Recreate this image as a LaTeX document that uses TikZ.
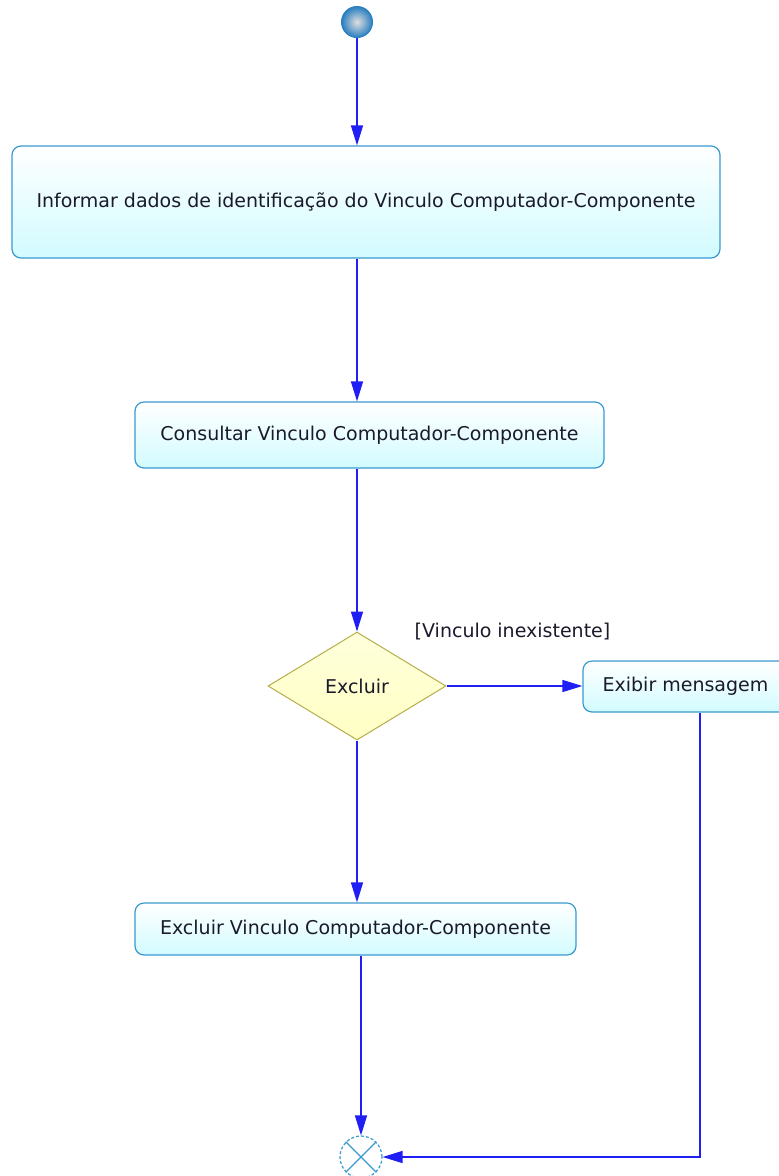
\documentclass[tikz,border=0pt]{standalone}
\usepackage{fontspec}
\setmainfont{DejaVu Sans}
\usetikzlibrary{arrows.meta,shapes.geometric,positioning}
\definecolor{flow}{HTML}{1E1EF5}
\definecolor{actline}{HTML}{3A9AD0}
\definecolor{actfill}{HTML}{D2FBFF}
\definecolor{decline}{HTML}{B5AE4A}
\definecolor{decfill}{HTML}{FFFFC4}
\definecolor{txt}{HTML}{1A1A2A}
\definecolor{ballblue}{HTML}{2A7FC0}

\tikzset{
  action/.style={draw=actline,line width=1.2pt,rounded corners=9pt,top color=white,bottom color=actfill,
    text=txt,font=\fontsize{19}{22}\selectfont,inner sep=0pt},
  decision/.style={diamond,draw=decline,line width=1pt,top color=decfill!60!white,bottom color=decfill,
    text=txt,font=\fontsize{19}{22}\selectfont,inner sep=0pt},
  flowline/.style={flow,line width=1.5pt,-{Triangle[length=20pt,width=12pt]}},
  guard/.style={text=txt,font=\fontsize{19}{22}\selectfont,inner sep=0pt}
}

\begin{document}
\begin{tikzpicture}[x=1pt,y=-1pt]
\useasboundingbox (0,0) rectangle (779,1176);
% nodes
\node[circle,minimum size=31pt,inner sep=0pt,draw=ballblue,line width=1pt,inner color=gray!25,outer color=ballblue] (start) at (357,22) {};
\node[action,minimum width=708pt,minimum height=112pt] (inform) at (366,202) {Informar dados de identificação do Vinculo Computador-Componente};
\node[action,minimum width=469pt,minimum height=66pt] (consult) at (369.5,435) {Consultar Vinculo Computador-Componente};
\node[decision,minimum width=178pt,minimum height=108pt] (excl) at (357,686) {Excluir};
\node[action,minimum width=205pt,minimum height=51pt] (exibir) at (685.5,686.5) {Exibir mensagem};
\node[action,minimum width=441pt,minimum height=52pt] (remove) at (355.5,929) {Excluir Vinculo Computador-Componente};
\node[circle,draw=actline,line width=1.2pt,densely dashed,fill=white,minimum size=42pt,inner sep=0pt] (fim) at (361,1157) {};
\draw[actline,line width=1.2pt] (fim.45) -- (fim.225) (fim.135) -- (fim.315);
\node[guard] (noexist) at (512.5,632) {[Vinculo inexistente]};
\coordinate (turn) at (700,1157);
% flows
\draw[flowline] (start) -- (start |- inform.north);
\draw[flowline] (inform.south -| start) -- (start |- consult.north);
\draw[flowline] (consult.south -| excl) -- (excl.north);
\draw[flowline] (excl.east) -- (excl.east -| exibir.west);
\draw[flowline] (excl.south) -- (excl.south |- remove.north);
\draw[flowline] (remove.south -| fim) -- (fim.north);
\draw[flowline] (exibir.south -| turn) -- (turn) -- (fim.east);
\end{tikzpicture}
\end{document}
